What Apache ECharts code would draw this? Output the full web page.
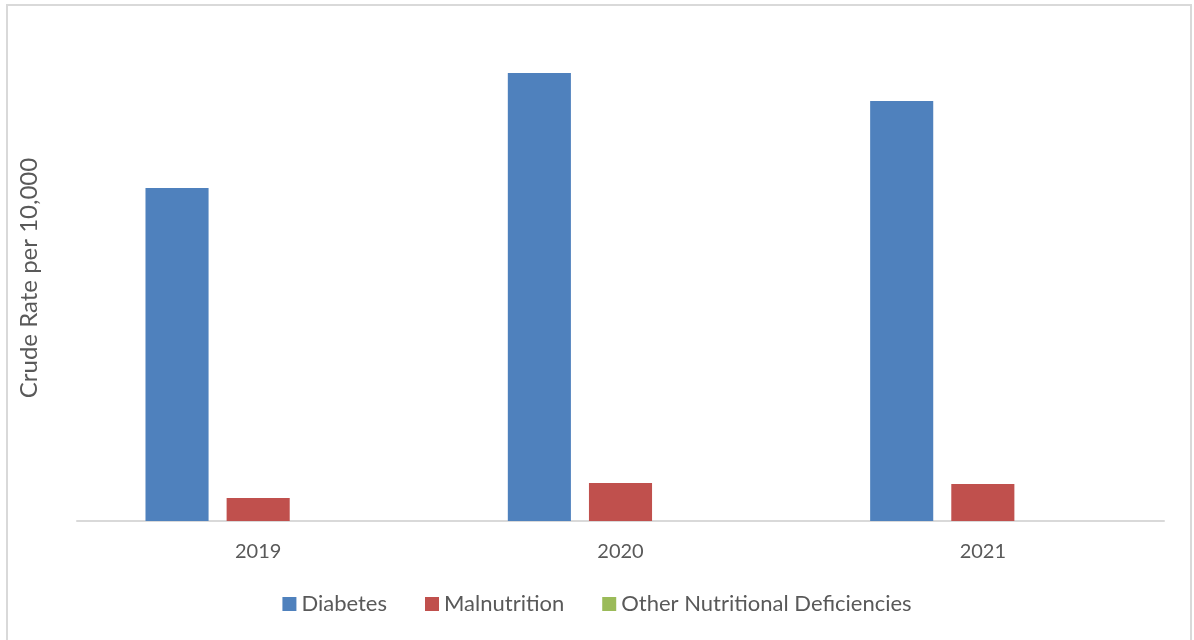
<!DOCTYPE html>
<html><head><meta charset="utf-8">
<script src="https://cdn.jsdelivr.net/npm/echarts@6/dist/echarts.min.js"></script>
<style>html,body{margin:0;padding:0;background:#fff}#c{width:1194px;height:640px}</style>
</head><body><div id="c"></div>
<script>
const categories = ['2019', '2020', '2021'];
const diabetes = [33.3, 44.8, 42.0];
const malnutrition = [2.3, 3.8, 3.7];
const otherDeficiencies = [0, 0, 0];
const seriesNames = ['Diabetes', 'Malnutrition', 'Other Nutritional Deficiencies'];
const colors = ['#4f81bd', '#c0504d', '#9bbb59'];

const chart = echarts.init(document.getElementById('c'));
const font = 'Lato, "Open Sans", sans-serif';
chart.setOption({
  animation: false,
  color: colors,
  graphic: [{
    type: 'rect', shape: { x: 7, y: 5, width: 1184, height: 660 },
    style: { fill: 'none', stroke: '#d9d9d9', lineWidth: 2 }, silent: true
  }],
  grid: { left: 77, right: 30, top: 21, bottom: 119 },
  legend: {
    bottom: 20, left: 'center', itemWidth: 14, itemHeight: 14, itemGap: 38,
    icon: 'rect',
    textStyle: { color: '#595959', fontSize: 22, fontFamily: font },
    data: seriesNames
  },
  xAxis: {
    type: 'category', data: categories,
    axisLine: { lineStyle: { color: '#d9d9d9', width: 2 } },
    axisTick: { show: false },
    axisLabel: { color: '#595959', fontSize: 20, fontFamily: font, margin: 21 }
  },
  yAxis: {
    type: 'value', min: 0, max: 50,
    name: 'Crude Rate per 10,000', nameLocation: 'middle', nameGap: 36,
    nameTextStyle: { color: '#595959', fontSize: 24, fontFamily: font, padding: [0, 14, 0, 0] },
    axisLine: { show: false }, axisTick: { show: false }, axisLabel: { show: false },
    splitLine: { show: false }
  },
  series: [
    { name: seriesNames[0], type: 'bar', data: diabetes, barGap: '28.6%', barCategoryGap: '37.8%' },
    { name: seriesNames[1], type: 'bar', data: malnutrition },
    { name: seriesNames[2], type: 'bar', data: otherDeficiencies }
  ]
});
</script></body></html>
